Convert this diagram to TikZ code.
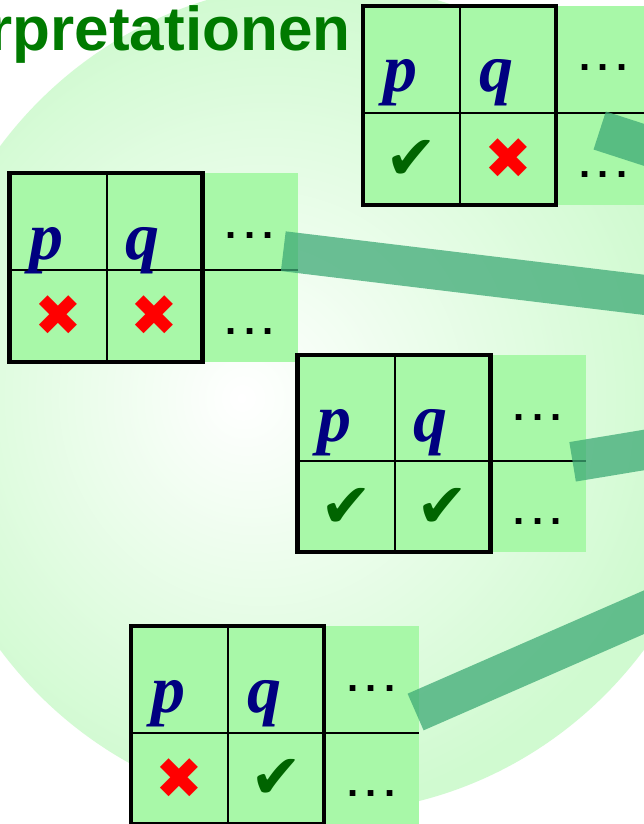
\documentclass[tikz,border=0pt]{standalone}
\usepackage{fontspec}
\setmainfont{Liberation Serif}
\newfontfamily\headfont{Liberation Sans}
\newfontfamily\markfont{DejaVu Sans}

\definecolor{cellgreen}{RGB}{168,248,168}
\definecolor{titlegreen}{RGB}{0,122,0}
\definecolor{navy}{RGB}{0,0,128}
\definecolor{checkgreen}{RGB}{0,100,0}
\definecolor{stripgreen}{RGB}{62,170,118}
\definecolor{glowedge}{RGB}{208,250,208}
\pgfdeclareradialshading{glow}{\pgfpoint{-5bp}{0bp}}{color(0bp)=(white); color(25bp)=(glowedge); color(50bp)=(glowedge)}

\tikzset{
	frame/.style={line width=4.5pt},
	gridline/.style={line width=2pt},
	pq/.style={anchor=base, text=navy, font=\fontsize{68}{68}\selectfont\bfseries\itshape},
	yes/.style={text=checkgreen, font=\markfont\fontsize{62}{62}\selectfont},
	no/.style={text=red, font=\markfont\fontsize{57}{57}\selectfont},
	more/.style={anchor=base, font=\headfont\bfseries\fontsize{40}{40}\selectfont},
	strip/.style={line width=40pt, draw=stripgreen, draw opacity=0.75},
	head/.style={anchor=base east, text=titlegreen, font=\headfont\bfseries\fontsize{62}{62}\selectfont}
}
\newcommand{\moredots}{.\hspace{7.4pt}.\hspace{7.4pt}.}

\begin{document}
\begin{tikzpicture}[x=1pt,y=-1pt]
	\useasboundingbox (0,0) rectangle (644,824);
	\fill[white] (0,0) rectangle (644,824);
	
	%background
	\shade[shading=glow] (322,398) ellipse [x radius=405, y radius=415];
	\node[head] (title) at (354,51) {rpretationen};
	
	%table 1
	\fill[cellgreen] (363,6) rectangle (651,205);
	\draw[gridline] (363,113)--(651,113);	\draw[gridline] (460,6)--(460,205);
	\draw[frame] (363,6) rectangle (556,205);
	\node[pq] (p1) at (400,92) {p};		\node[pq] (q1) at (496,92) {q};
	\node[yes] (a1) at (411.5,160) {✔};	\node[no] (b1) at (508,159) {✖};
	\node[more] (m1) at (603.5,71) {\moredots};	\node[more] (n1) at (603.5,177) {\moredots};
	
	%table 2
	\fill[cellgreen] (9.5,173) rectangle (297.5,362);
	\draw[gridline] (9.5,269.5)--(297.5,269.5);	\draw[gridline] (106.5,173)--(106.5,362);
	\draw[frame] (9.5,173) rectangle (202.5,362);
	\node[pq] (p2) at (46.5,259) {p};		\node[pq] (q2) at (142.5,259) {q};
	\node[no] (a2) at (58,315.75) {✖};		\node[no] (b2) at (154.5,315.75) {✖};
	\node[more] (m2) at (250,238) {\moredots};	\node[more] (n2) at (250,334) {\moredots};
	
	%table 3
	\fill[cellgreen] (297.5,355) rectangle (585.5,552);
	\draw[gridline] (297.5,461)--(585.5,461);	\draw[gridline] (394.5,355)--(394.5,552);
	\draw[frame] (297.5,355) rectangle (490.5,552);
	\node[pq] (p3) at (334.5,441) {p};		\node[pq] (q3) at (430.5,441) {q};
	\node[yes] (a3) at (346,507.5) {✔};	\node[yes] (b3) at (442.5,507.5) {✔};
	\node[more] (m3) at (538,420) {\moredots};	\node[more] (n3) at (538,524) {\moredots};
	
	%table 4
	\fill[cellgreen] (131,626) rectangle (419,824);
	\draw[gridline] (131,732.5)--(419,732.5);	\draw[gridline] (228,626)--(228,824);
	\draw[frame] (131,626) rectangle (324,824);
	\node[pq] (p4) at (168,712) {p};		\node[pq] (q4) at (264,712) {q};
	\node[no] (a4) at (179.5,778.25) {✖};	\node[yes] (b4) at (276,779) {✔};
	\node[more] (m4) at (371.5,691) {\moredots};	\node[more] (n4) at (371.5,796) {\moredots};
	
	%strips
	\coordinate (from1) at (599.7,130.5);	\coordinate (to1) at (700,163);
	\coordinate (from2) at (283.3,251.2);	\coordinate (to2) at (700,301.6);
	\coordinate (from3) at (572.6,461.8);	\coordinate (to3) at (700,440.7);
	\coordinate (from4) at (415.6,712);	\coordinate (to4) at (700,587.7);
	\draw[strip] (from1)--(to1);
	\draw[strip] (from2)--(to2);
	\draw[strip] (from3)--(to3);
	\draw[strip] (from4)--(to4);
\end{tikzpicture}
\end{document}
